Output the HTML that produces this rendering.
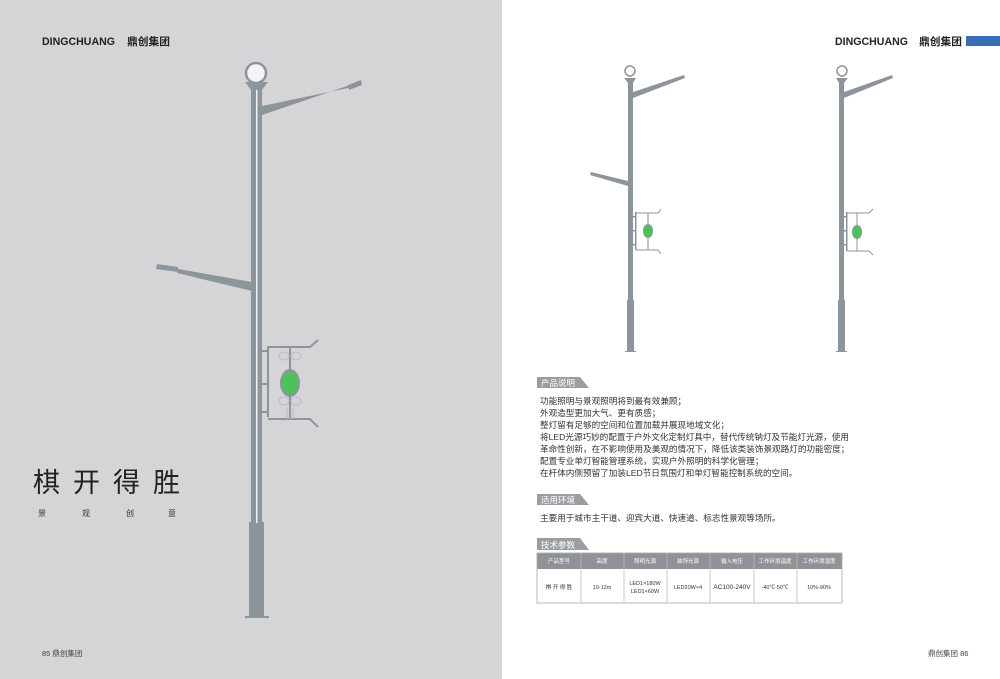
<!DOCTYPE html>
<html><head><meta charset="utf-8"><style>
body{margin:0;width:1000px;height:679px;overflow:hidden;background:#fff;font-family:"Liberation Sans","Noto Sans CJK SC",sans-serif;}
svg{display:block}
</style></head><body>
<svg width="1000" height="679" viewBox="0 0 1000 679" xmlns="http://www.w3.org/2000/svg" font-family="Liberation Sans, Noto Sans CJK SC, sans-serif">
<rect x="0" y="0" width="502" height="679" fill="#d5d5d7"/>
<rect x="502" y="0" width="498" height="679" fill="#fff"/>
<!-- headers -->
<text x="42" y="45" font-size="11" font-weight="bold" fill="#222" textLength="73" lengthAdjust="spacingAndGlyphs">DINGCHUANG</text>
<text x="127" y="45" font-size="10.5" font-weight="bold" fill="#222" textLength="43" lengthAdjust="spacingAndGlyphs">鼎创集团</text>
<text x="835" y="45" font-size="11" font-weight="bold" fill="#222" textLength="73" lengthAdjust="spacingAndGlyphs">DINGCHUANG</text>
<text x="919" y="45" font-size="10.5" font-weight="bold" fill="#222" textLength="43" lengthAdjust="spacingAndGlyphs">鼎创集团</text>
<rect x="966" y="36" width="34" height="10" fill="#3a6db5"/>
<!-- big pole -->
<g fill="#8c959c">
<rect x="251" y="88" width="11" height="436"/>
<rect x="249" y="522" width="15" height="95"/>
<rect x="245" y="616" width="24" height="2"/>
<polygon points="245,82 268,82 262,90 251,90"/>
<polygon points="262,106 348,88 350,85 262,115"/>
<polygon points="348,85 361,80 362,85 349,90"/>
<polygon points="252,282 178,269 177,273 252,291"/>
<polygon points="178,267 157,264 156,269 178,272"/>
<rect x="262" y="350" width="7" height="2"/><rect x="262" y="383" width="7" height="2"/><rect x="262" y="411" width="7" height="2"/>
<rect x="267" y="346" width="2" height="71"/>
</g>
<rect x="256" y="90" width="1.5" height="433" fill="#eef0f1"/>
<circle cx="256" cy="73" r="10" fill="#f4f4f4" stroke="#8c959c" stroke-width="2.5"/>
<g stroke="#8c959c" stroke-width="2" fill="none">
<polyline points="268,347 310,347 318,340"/>
<polyline points="268,419 310,419 318,427"/>
<line x1="290" y1="347" x2="290" y2="419"/>
</g>
<g stroke="#b8bdc1" stroke-width="1" fill="none">
<ellipse cx="284" cy="356" rx="5" ry="4"/><ellipse cx="296" cy="356" rx="5" ry="4"/>
<ellipse cx="284" cy="401" rx="5" ry="4"/><ellipse cx="296" cy="401" rx="5" ry="4"/>
<rect x="287" y="408" width="6" height="10"/>
</g>
<ellipse cx="290" cy="383" rx="10" ry="14" fill="#8c959c"/>
<ellipse cx="290" cy="383" rx="8" ry="11.5" fill="#4cc35a"/>
<!-- left title -->
<text x="33" y="492" font-size="27" fill="#222" letter-spacing="13">棋开得胜</text>
<g font-size="8" fill="#333"><text x="38" y="516">景</text><text x="82" y="516">观</text><text x="126" y="516">创</text><text x="168" y="516">意</text></g>
<text x="42" y="656" font-size="7.5" fill="#444">85  鼎创集团</text>
<text x="928" y="656" font-size="7.5" fill="#444">鼎创集团  86</text>
<!-- small pole 1 -->
<g fill="#8c959c">
<rect x="628" y="80" width="5" height="222"/>
<rect x="627" y="300" width="7" height="52"/>
<rect x="625" y="351" width="11" height="1"/>
<polygon points="624,78 636,78 633,83 628,83"/>
<polygon points="633,92 684,75 685,78 633,98"/>
<polygon points="628,181 591,172 590,175 628,186"/>
<rect x="633" y="216" width="3" height="1.5"/><rect x="633" y="230" width="3" height="1.5"/><rect x="633" y="244" width="3" height="1.5"/>
<rect x="635" y="212" width="1.5" height="38"/>
</g>
<circle cx="630" cy="71" r="5" fill="#fff" stroke="#8c959c" stroke-width="1.5"/>
<g stroke="#8c959c" stroke-width="1" fill="none"><polyline points="636,213 658,213 661,209"/><polyline points="636,250 658,250 661,254"/><line x1="648" y1="213" x2="648" y2="250"/></g>
<ellipse cx="648" cy="231" rx="5" ry="7" fill="#8c959c"/><ellipse cx="648" cy="231" rx="4" ry="6" fill="#4cc35a"/>
<!-- small pole 2 -->
<g fill="#8c959c">
<rect x="839" y="80" width="5" height="222"/>
<rect x="838" y="300" width="7" height="52"/>
<rect x="836" y="351" width="11" height="1"/>
<polygon points="836,78 848,78 844,83 839,83"/>
<polygon points="844,92 892,75 893,78 844,98"/>
<rect x="844" y="216" width="3" height="1.5"/><rect x="844" y="230" width="3" height="1.5"/><rect x="844" y="244" width="3" height="1.5"/>
<rect x="846" y="212" width="1.5" height="39"/>
</g>
<circle cx="842" cy="71" r="5" fill="#fff" stroke="#8c959c" stroke-width="1.5"/>
<g stroke="#8c959c" stroke-width="1" fill="none"><polyline points="847,213 869,213 873,209"/><polyline points="847,251 869,251 873,255"/><line x1="857" y1="213" x2="857" y2="251"/></g>
<ellipse cx="857" cy="232" rx="5" ry="7" fill="#8c959c"/><ellipse cx="857" cy="232" rx="4" ry="6" fill="#4cc35a"/>
<!-- section tabs -->
<g fill="#9a9ea2">
<polygon points="537,377 580,377 589,388 537,388"/>
<polygon points="537,494 580,494 589,505 537,505"/>
<polygon points="537,538 580,538 589,550 537,550"/>
</g>
<g font-size="8.5" fill="#fff"><text x="541" y="386">产品说明</text><text x="541" y="503">适用环境</text><text x="541" y="548">技术参数</text></g>
<g font-size="8.6" fill="#333">
<text x="540" y="404">功能照明与景观照明将到最有效兼顾；</text>
<text x="540" y="416">外观造型更加大气、更有质感；</text>
<text x="540" y="428">整灯留有足够的空间和位置加载并展现地域文化；</text>
<text x="540" y="440">将LED光源巧妙的配置于户外文化定制灯具中，替代传统钠灯及节能灯光源，使用</text>
<text x="540" y="452">革命性创新，在不影响使用及美观的情况下，降低该类装饰景观路灯的功能密度；</text>
<text x="540" y="464">配置专业单灯智能管理系统，实现户外照明的科学化管理；</text>
<text x="540" y="476">在杆体内侧预留了加装LED节日氛围灯和单灯智能控制系统的空间。</text>
<text x="540" y="521">主要用于城市主干道、迎宾大道、快速道、标志性景观等场所。</text>
</g>
<!-- table -->
<rect x="537" y="553" width="305" height="16" fill="#8f9296"/>
<rect x="537" y="553" width="305" height="50" fill="none" stroke="#aaa" stroke-width="0.8"/>
<g stroke="#bbb" stroke-width="0.8">
<line x1="581" y1="553" x2="581" y2="603"/><line x1="624" y1="553" x2="624" y2="603"/><line x1="667" y1="553" x2="667" y2="603"/><line x1="710" y1="553" x2="710" y2="603"/><line x1="754" y1="553" x2="754" y2="603"/><line x1="797" y1="553" x2="797" y2="603"/>
</g>
<g font-size="5.5" fill="#fff" text-anchor="middle">
<text x="559" y="563">产品型号</text><text x="602" y="563">高度</text><text x="645" y="563">照明光源</text><text x="688" y="563">装饰光源</text><text x="732" y="563">输入电压</text><text x="775" y="563">工作环境温度</text><text x="819" y="563">工作环境湿度</text>
</g>
<g font-size="5.5" fill="#333" text-anchor="middle">
<text x="559" y="589">棋 开 得 胜</text><text x="602" y="589">10-12m</text>
<text x="645" y="585">LED1×180W</text><text x="645" y="593">LED1×60W</text>
<text x="688" y="589">LED20W×4</text>
<text x="732" y="589" font-size="6.5">AC100-240V</text><text x="775" y="589">-40℃-50℃</text><text x="819" y="589">10%-90%</text>
</g>
</svg>
</body></html>
